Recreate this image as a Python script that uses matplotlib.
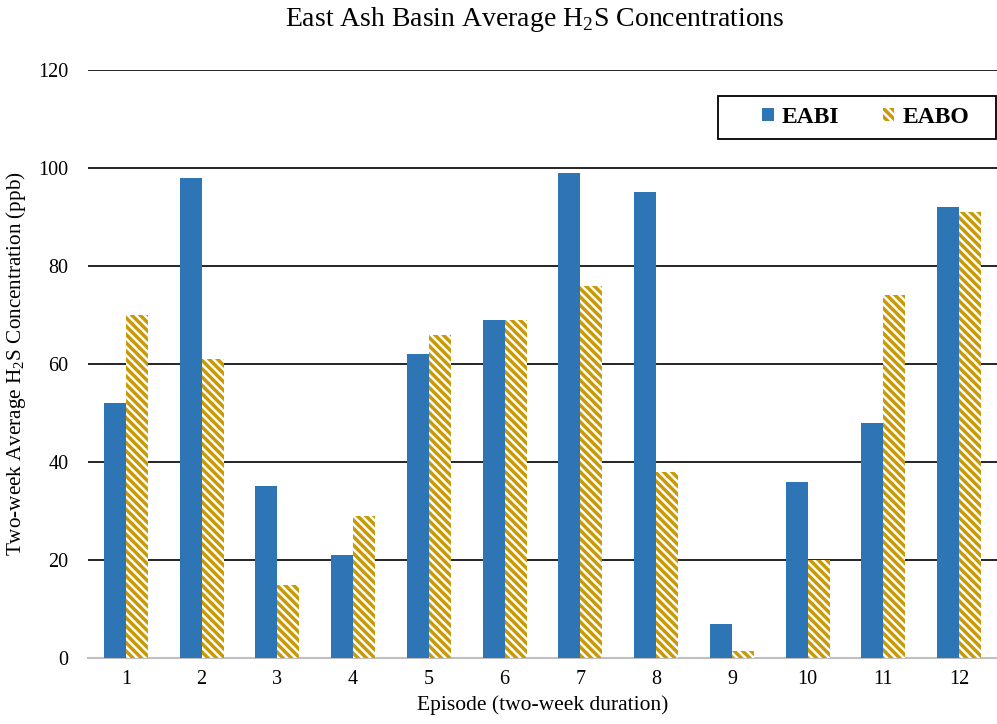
import matplotlib
matplotlib.use("Agg")
import matplotlib.pyplot as plt
from matplotlib.patches import Rectangle
import numpy as np

episodes = ["1", "2", "3", "4", "5", "6", "7", "8", "9", "10", "11", "12"]
eabi = [52, 98, 35, 21, 62, 69, 99, 95, 7, 36, 48, 92]
eabo = [70, 61, 15, 29, 66, 69, 76, 38, 1.5, 20, 74, 91]
yticks = [0, 20, 40, 60, 80, 100, 120]

plt.rcParams['font.family'] = ['Liberation Serif', 'DejaVu Serif']
plt.rcParams['mathtext.fontset'] = 'custom'
plt.rcParams['mathtext.rm'] = 'Liberation Serif'
plt.rcParams['hatch.linewidth'] = 2.5

blue = '#2E75B6'
gold = '#C99A06'

W, H = 997, 724
fig = plt.figure(figsize=(W / 100, H / 100), dpi=100)
ax = fig.add_axes([88 / W, 1 - 658 / H, (997 - 88) / W, (658 - 70) / H])

x = np.arange(len(episodes))
w = 0.29
ax.bar(x - w/2, eabi, w, color=blue, label='EABI', zorder=3)
ax.bar(x + w/2, eabo, w, facecolor='white', edgecolor=gold, hatch='\\\\\\\\', linewidth=0, label='EABO', zorder=3)

ax.set_xlim(-0.5, len(episodes) - 0.5)
ax.set_ylim(0, 120)
ax.set_yticks(yticks)
ax.set_xticks(x)
ax.set_xticklabels(episodes)
ax.grid(axis='y', color='black', linewidth=1.2, zorder=0)
for s in ['top', 'right', 'left']:
    ax.spines[s].set_visible(False)
ax.spines['bottom'].set_color('#BFBFBF')
ax.spines['bottom'].set_linewidth(1.5)
ax.tick_params(axis='y', length=0, labelsize=14.5, pad=14)
ax.tick_params(axis='x', length=0, labelsize=14.5, pad=9)

fig.text(535 / W, 1 - 20 / H, 'East Ash Basin Average H$_2$S Concentrations',
         fontsize=20, ha='center', va='center')
ax.set_ylabel('Two-week Average H$_2$S Concentration (ppb)', fontsize=15.2)
ax.yaxis.set_label_coords(-(88 - 28) / (997 - 88), 0.5)
ax.set_xlabel('Episode (two-week duration)', fontsize=15.5, labelpad=4)

frame = Rectangle((718 / W, 1 - 139 / H), (996 - 718) / W, 43 / H, transform=fig.transFigure,
                  facecolor='white', edgecolor='black', linewidth=1.3, zorder=4, clip_on=False)
ax.add_patch(frame)
leg = ax.legend(loc='center left', bbox_to_anchor=((750 - 88) / (997 - 88), (658 - 117.5) / 588), ncol=2,
                frameon=False, prop={'weight': 'bold', 'size': 17}, handlelength=0.5, handleheight=0.5,
                columnspacing=1.85, borderpad=0.0, handletextpad=0.33)
leg.set_zorder(6)

fig.savefig('out.png', dpi=100)
